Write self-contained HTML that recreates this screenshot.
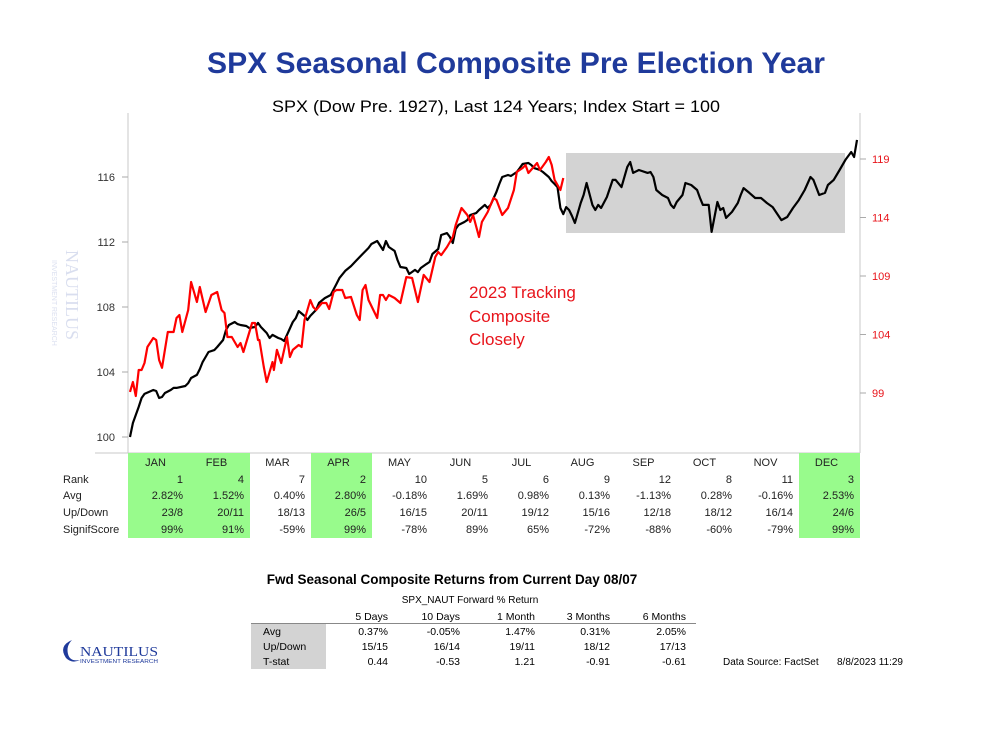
<!DOCTYPE html>
<html><head><meta charset="utf-8"><style>
html,body{margin:0;padding:0;background:#fff;}
svg{display:block;font-family:"Liberation Sans",sans-serif;}
</style></head><body>
<svg id="chart" width="989" height="738" viewBox="0 0 989 738" xmlns="http://www.w3.org/2000/svg">
<text x="516" y="73" text-anchor="middle" font-size="30" font-weight="bold" fill="#1f3a9b" textLength="618" lengthAdjust="spacingAndGlyphs">SPX Seasonal Composite Pre Election Year</text>
<text x="496" y="112" text-anchor="middle" font-size="17" fill="#000" textLength="448" lengthAdjust="spacingAndGlyphs">SPX (Dow Pre. 1927), Last 124 Years; Index Start = 100</text>
<g opacity="0.25">
<text x="66" y="250" font-size="18" fill="#6a7fc0" transform="rotate(90 66 250)" font-family="Liberation Serif, serif">NAUTILUS</text>
<text x="52" y="260" font-size="7" fill="#6a7fc0" transform="rotate(90 52 260)">INVESTMENT RESEARCH</text>
</g>
<rect x="566" y="153" width="279" height="80" fill="#d3d3d3"/>
<line x1="128" y1="113" x2="128" y2="453" stroke="#c8c8c8"/>
<line x1="860" y1="113" x2="860" y2="453" stroke="#c8c8c8"/>
<line x1="95" y1="453" x2="860" y2="453" stroke="#c8c8c8"/>
<g id="axes"></g>
<g id="series"></g>
<text font-size="17" fill="#e8141b"><tspan x="469" y="298">2023 Tracking</tspan><tspan x="469" y="322">Composite</tspan><tspan x="469" y="345">Closely</tspan></text>
<g id="table"></g>
<text x="452" y="584" text-anchor="middle" font-size="13.5" font-weight="bold" fill="#000">Fwd Seasonal Composite Returns from Current Day 08/07</text>
<text x="470" y="603" text-anchor="middle" font-size="10" fill="#000">SPX_NAUT Forward % Return</text>
<rect x="251" y="624" width="75" height="45" fill="#d3d3d3"/>
<line x1="251" y1="623.5" x2="696" y2="623.5" stroke="#888"/>
<g id="fwd"></g>
<text x="723" y="665" font-size="10" fill="#000">Data Source: FactSet</text>
<text x="837" y="665" font-size="10" fill="#000">8/8/2023 11:29</text>
<g>
<path d="M72 640 q-14 6 -6 18 q6 6 14 2 q-10 2 -12 -6 q-2 -8 4 -14z" fill="#1f3a9b"/>
<text x="80" y="656" font-size="14" fill="#1f3a9b" font-family="Liberation Serif, serif" textLength="78" lengthAdjust="spacingAndGlyphs">NAUTILUS</text>
<text x="80" y="663" font-size="5" fill="#1f3a9b" textLength="78" lengthAdjust="spacingAndGlyphs">INVESTMENT RESEARCH</text>
</g>
</svg>
<script>
const NS="http://www.w3.org/2000/svg";
const compDays=[0,1,3,4,5,8,9,10,11,12,14,15,16,19,20,21,23,24,25,26,27,29,30,32,33,34,36,37,38,40,41,43,44,45,47,48,49,51,52,53,54,56,57,58,60,61,62,64,65,67,69,71,72,74,76,78,80,82,83,85,87,88,89,91,92,93,95,96,98,99,100,102,103,104,106,107,109,110,111,112,113,115,116,117,119,120,122,123,124,126,127,128,130,131,133,134,135,137,138,139,141,142,144,145,146,147,148,149,150,151,152,153,155,156,157,159,160,161,162,164,166,167,169,171,172,173,175,178,179,180,181,183,185,186,187,188,190,191,193,195,196,197,199,200,202,203,204,205,207,209,210,211,213,215,217,219,221,224,226,228,230,232,234,235,237,239,240,242,244,246,248,249,250];
const compValues=[100.00,100.86,101.85,102.40,102.65,102.89,102.83,102.40,102.46,102.71,102.89,103.02,103.02,103.14,103.32,103.63,103.82,104.18,104.62,104.92,105.23,105.35,105.54,105.97,106.58,106.89,107.08,106.95,106.89,106.83,106.71,106.77,107.02,106.77,106.40,106.09,106.28,106.09,106.03,105.91,106.28,107.08,107.32,107.75,107.45,107.20,107.45,107.82,108.25,108.55,108.74,109.42,109.78,110.22,110.52,110.89,111.26,111.63,111.88,112.06,111.51,112.06,111.69,111.45,110.89,110.46,110.40,110.03,110.28,110.15,110.40,110.65,110.77,111.26,111.57,112.43,112.55,112.31,111.94,112.80,113.05,113.23,113.35,113.66,113.78,113.97,114.28,114.09,114.28,115.08,115.57,116.00,116.12,116.06,116.31,116.55,116.80,116.86,116.74,116.55,116.43,116.31,116.00,115.75,115.57,115.38,114.09,113.72,114.15,113.97,113.60,113.17,114.40,114.89,115.63,114.28,113.97,114.28,114.09,114.77,115.82,115.82,115.38,116.62,116.92,116.25,116.43,116.25,116.31,116.00,115.20,114.89,114.71,114.28,114.09,114.46,114.89,115.63,115.51,115.20,114.71,114.28,114.28,112.62,114.46,113.97,114.09,113.48,113.85,114.40,114.89,115.32,115.02,114.71,114.71,114.40,114.15,113.35,113.54,114.09,114.58,115.20,116.00,115.82,114.89,115.02,115.51,115.82,116.43,117.05,117.54,117.23,118.28];
const trackDays=[0,1,2,3,4,5,6,8,9,10,11,13,15,16,17,18,20,21,23,24,26,28,30,31.5,32.5,33.5,35,37,38,39,42,43,44,44.5,46,47,49,49.5,50.5,52,54,55,56,58,59,60,62,63,64,66,67.5,68.5,70,71,73,74,76,78,79,80,81,82,85,86,87,88,89,91,93,95,97,99,101,103,105,106,107,109,111,112,114,116,117,118,120,121,123,125,126,128,130,132,133,135,136,137,140,141,143,144,145,146,148,149];
const trackValues=[99.09,99.94,98.74,100.97,100.97,101.56,102.93,103.70,103.53,101.82,101.15,104.21,104.21,105.41,105.67,104.21,106.09,108.49,106.78,108.06,105.92,107.38,107.63,106.09,105.84,103.79,103.79,102.93,103.27,102.50,104.98,104.98,103.53,103.53,101.22,99.94,101.65,100.97,102.68,101.56,103.79,102.08,102.68,103.10,102.93,105.24,106.95,106.35,106.09,106.69,106.69,106.18,107.63,107.80,107.80,107.12,107.21,105.67,105.24,107.80,108.23,106.95,105.41,107.38,107.38,106.95,107.38,107.12,106.69,108.91,108.83,106.78,109.09,108.49,110.62,111.05,110.79,111.48,112.33,113.36,114.81,114.21,113.62,114.21,112.33,113.62,114.47,115.67,115.50,114.21,114.81,116.35,117.89,118.23,118.49,117.80,118.66,118.06,118.74,119.17,118.49,117.21,116.35,117.38];
const leftTicks=[100,104,108,112,116];
const rightTicks=[99,104,109,114,119];
const months=["JAN","FEB","MAR","APR","MAY","JUN","JUL","AUG","SEP","OCT","NOV","DEC"];
const ranks=["1","4","7","2","10","5","6","9","12","8","11","3"];
const avgs=["2.82%","1.52%","0.40%","2.80%","-0.18%","1.69%","0.98%","0.13%","-1.13%","0.28%","-0.16%","2.53%"];
const upDown=["23/8","20/11","18/13","26/5","16/15","20/11","19/12","15/16","12/18","18/12","16/14","24/6"];
const signif=["99%","91%","-59%","99%","-78%","89%","65%","-72%","-88%","-60%","-79%","99%"];
const highlighted=[0,1,3,11];
const fwdHeaders=["5 Days","10 Days","1 Month","3 Months","6 Months"];
const fwdAvg=["0.37%","-0.05%","1.47%","0.31%","2.05%"];
const fwdUpDown=["15/15","16/14","19/11","18/12","17/13"];
const fwdT=["0.44","-0.53","1.21","-0.91","-0.61"];

const X0=130,X1=857,DMAX=250;
const xs=d=>X0+(X1-X0)*d/DMAX;
const yL=v=>437-(v-100)*16.25;
const yR=v=>159-(v-119)*11.7;
function mk(tag,attrs,parent,txt){const e=document.createElementNS(NS,tag);for(const k in attrs)e.setAttribute(k,attrs[k]);if(txt!==undefined)e.textContent=txt;parent.appendChild(e);return e;}
const axes=document.getElementById('axes');
leftTicks.forEach(v=>{
 const t=mk('line',{x1:122,x2:128,y1:yL(v),y2:yL(v),stroke:'#aaa'},axes);
 
 
 const l=mk('text',{x:115,y:yL(v)+4,'text-anchor':'end','font-size':11,fill:'#333'},axes,String(v));
 
 
});
rightTicks.forEach(v=>{
 const t=mk('line',{x1:860,x2:866,y1:yR(v),y2:yR(v),stroke:'#aaa'},axes);
 
 
 const l=mk('text',{x:872,y:yR(v)+4,'font-size':11,fill:'#e8141b'},axes,String(v));
 
 
});
const series=document.getElementById('series');
const pc=mk('polyline',{points:compDays.map((d,i)=>xs(d).toFixed(1)+','+yL(compValues[i]).toFixed(1)).join(' '),fill:'none',stroke:'#000','stroke-width':2.2,'stroke-linejoin':'round'},series);


const pt=mk('polyline',{points:trackDays.map((d,i)=>xs(d).toFixed(1)+','+yR(trackValues[i]).toFixed(1)).join(' '),fill:'none',stroke:'#ff0000','stroke-width':2.2,'stroke-linejoin':'round'},series);



const tbl=document.getElementById('table');
const CW=(860-128)/12, rowY=[453,471,487,504,521,538];
highlighted.forEach(i=>{
 const r=mk('rect',{x:128+i*CW,y:453,width:CW,height:85,fill:'#98fb8c'},tbl);
 
 
});
const labels=["Rank","Avg","Up/Down","SignifScore"];
labels.forEach((s,r)=>{
 const t=mk('text',{x:63,y:rowY[r+1]+12,'font-size':11,fill:'#222'},tbl,s);
 
 
});
months.forEach((m,i)=>{
 const cx=128+i*CW;
 const h=mk('text',{x:cx+CW/2-3,y:466,'text-anchor':'middle','font-size':11,fill:'#222'},tbl,m);
 
 
 [ranks,avgs,upDown,signif].forEach((arr,r)=>{
  const t=mk('text',{x:cx+CW-6,y:rowY[r+1]+12,'text-anchor':'end','font-size':11,fill:'#222'},tbl,arr[i]);
  
  
 });
});
const fwd=document.getElementById('fwd');
const fx=[388,460,535,610,686];
fwdHeaders.forEach((h,i)=>{
 const t=mk('text',{x:fx[i],y:620,'text-anchor':'end','font-size':10.5,fill:'#000'},fwd,h);
 
 
});
[["Avg",fwdAvg],["Up/Down",fwdUpDown],["T-stat",fwdT]].forEach(([lab,arr],r)=>{
 const y=635+r*15;
 const l=mk('text',{x:263,y:y,'font-size':10.5,fill:'#000'},fwd,lab);
 
 
 arr.forEach((v,i)=>{
  const t=mk('text',{x:fx[i],y:y,'text-anchor':'end','font-size':10.5,fill:'#000'},fwd,v);
  
  
 });
});
</script>
</body></html>
